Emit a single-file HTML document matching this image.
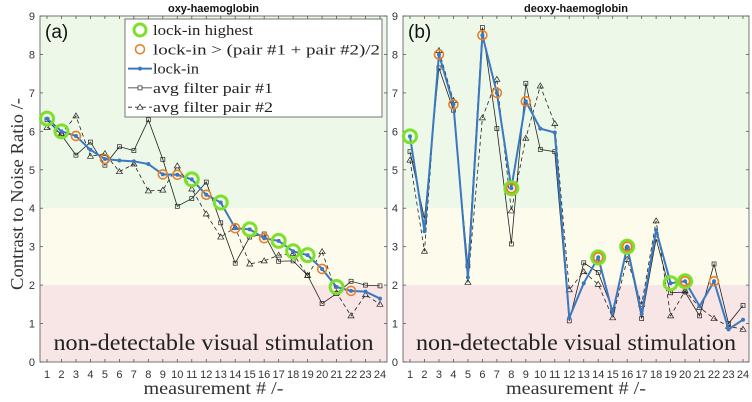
<!DOCTYPE html>
<html><head><meta charset="utf-8"><style>
body{margin:0;background:#fff;}
svg{display:block;font-family:"Liberation Sans",sans-serif;}
.serif{font-family:"Liberation Serif",serif;}
</style></head><body>
<svg id="chart" width="752" height="402"></svg>
<script>
const categories=[1,2,3,4,5,6,7,8,9,10,11,12,13,14,15,16,17,18,19,20,21,22,23,24];
const yTicks=[0,1,2,3,4,5,6,7,8,9];
const oxyLock=[6.33,6.0,5.88,5.52,5.28,5.24,5.22,5.15,4.88,4.87,4.75,4.35,4.15,3.48,3.45,3.22,3.15,2.88,2.78,2.42,1.95,1.85,1.83,1.65];
const oxyP1=[6.3,5.9,5.38,5.72,5.12,5.6,5.5,6.3,5.27,4.05,4.25,4.68,3.62,2.57,3.25,3.33,2.62,2.63,2.25,1.52,1.78,2.1,2.0,1.98];
const oxyP2=[6.1,5.95,6.4,5.35,5.42,4.95,5.15,4.45,4.47,5.1,4.5,3.85,3.25,3.5,2.55,2.63,2.78,2.82,2.25,2.87,1.8,1.2,1.75,1.5];
const oxyGreen=[1,2,11,13,15,17,18,19,21];
const oxyOrange=[3,5,9,10,12,14,16,20,22];
const deoLock=[5.87,3.4,8.0,6.7,2.2,8.5,7.0,4.52,6.78,6.07,5.97,1.15,2.05,2.72,1.27,3.0,1.25,3.43,2.05,2.1,1.45,2.1,0.85,1.1];
const deoP1=[5.47,3.73,7.65,6.55,2.5,8.7,6.07,3.07,7.25,5.53,5.47,1.07,2.58,2.33,1.35,2.95,1.13,3.2,1.8,1.82,1.2,2.55,1.0,1.47];
const deoP2=[5.25,2.88,8.1,6.8,2.07,6.35,7.35,3.93,5.82,7.18,6.2,1.88,2.35,2.02,1.15,2.67,1.5,3.67,1.2,1.85,1.42,1.13,0.93,0.85];
const deoGreen=[1,8,14,16,19,20];
const deoOrange=[3,4,6,7,8,9,14,16,20,22];

const NS="http://www.w3.org/2000/svg";
const svg=document.getElementById('chart');
function el(tag,attrs,parent){const e=document.createElementNS(NS,tag);for(const k in attrs)e.setAttribute(k,attrs[k]);(parent||svg).appendChild(e);return e;}

function panel(cfg){
  const g=el('g',{});
  
  
  const L=cfg.left,R=cfg.right,T=16,B=362;
  const xs=i=>cfg.x1+(i-1)*(cfg.x24-cfg.x1)/23;
  const ys=v=>B-(v/9)*(B-T);
  const bands=[[4,9,'#eef8e9','green-band'],[2,4,'#fdfcec','yellow-band'],[0,2,'#f8e5e5','red-band']];
  bands.forEach(b=>{const r=el('rect',{x:L,y:ys(b[1]),width:R-L,height:ys(b[0])-ys(b[1]),fill:b[2]},g);
    });
  const fr=el('rect',{x:L,y:T,width:R-L,height:B-T,fill:'none',stroke:'#555','stroke-width':0.8},g);
  
  yTicks.forEach(t=>{const y=ys(t);
    el('line',{x1:L,x2:L+3,y1:y,y2:y,stroke:'#555','stroke-width':0.8},g);
    el('line',{x1:R,x2:R-3,y1:y,y2:y,stroke:'#555','stroke-width':0.8},g);
    const tx=el('text',{x:L-5,y:y+4,'text-anchor':'end','font-size':11,fill:'#333'},g);tx.textContent=t;
    });
  categories.forEach(c=>{const x=xs(c);
    el('line',{x1:x,x2:x,y1:B,y2:B-3,stroke:'#555','stroke-width':0.8},g);
    el('line',{x1:x,x2:x,y1:T,y2:T+3,stroke:'#555','stroke-width':0.8},g);
    const tx=el('text',{x:x,y:B+16,'text-anchor':'middle','font-size':11,fill:'#333'},g);tx.textContent=c;
    });
  const nd=el('text',{x:(L+R)/2,y:350,'text-anchor':'middle','font-size':23,fill:'#222',class:'serif',textLength:320,lengthAdjust:'spacingAndGlyphs'},g);
  nd.textContent='non-detectable visual stimulation';
  
  const ti=el('text',{x:(L+R)/2,y:12,'text-anchor':'middle','font-size':11,'font-weight':'bold',fill:'#111'},g);
  ti.textContent=cfg.title;
  const pl=el('text',{x:L+5,y:38,'font-size':19,fill:'#111'},g);pl.textContent=cfg.label;
  
  const xl=el('text',{x:(L+R)/2,y:394,'text-anchor':'middle','font-size':18,fill:'#333',class:'serif',textLength:140,lengthAdjust:'spacingAndGlyphs'},g);
  xl.textContent='measurement # /-';
  const pts=a=>a.map((v,i)=>xs(categories[i])+','+ys(v)).join(' ');
  const p1=el('polyline',{points:pts(cfg.p1),fill:'none',stroke:'#222','stroke-width':0.8},g);
  
  cfg.p1.forEach((v,i)=>{const m=el('rect',{x:xs(categories[i])-2,y:ys(v)-2,width:4,height:4,fill:'none',stroke:'#222','stroke-width':0.7},g);
    });
  const p2=el('polyline',{points:pts(cfg.p2),fill:'none',stroke:'#222','stroke-width':0.8,'stroke-dasharray':'4,3'},g);
  
  cfg.p2.forEach((v,i)=>{const x=xs(categories[i]),y=ys(v);
    const m=el('polygon',{points:`${x},${y-3} ${x-3},${y+2} ${x+3},${y+2}`,fill:'none',stroke:'#222','stroke-width':0.7},g);
    });
  const lk=el('polyline',{points:pts(cfg.lock),fill:'none',stroke:'#3a78c0','stroke-width':2},g);
  
  cfg.lock.forEach((v,i)=>{const m=el('circle',{cx:xs(categories[i]),cy:ys(v),r:2,fill:'#3a78c0'},g);
    });
  cfg.green.forEach(c=>{const m=el('circle',{cx:xs(c),cy:ys(cfg.lock[c-1]),r:6.5,fill:'none',stroke:'#7de02a','stroke-width':3},g);
    });
  cfg.orange.forEach(c=>{const m=el('circle',{cx:xs(c),cy:ys(cfg.lock[c-1]),r:4.5,fill:'none',stroke:'#e8822a','stroke-width':1.6},g);
    });
}
panel({name:'oxy-panel',title:'oxy-haemoglobin',label:'(a)',left:40,right:387,x1:47,x24:380,lock:oxyLock,p1:oxyP1,p2:oxyP2,green:oxyGreen,orange:oxyOrange});
panel({name:'deoxy-panel',title:'deoxy-haemoglobin',label:'(b)',left:403,right:749,x1:410,x24:743,lock:deoLock,p1:deoP1,p2:deoP2,green:deoGreen,orange:deoOrange});
const yt=el('text',{x:0,y:0,'text-anchor':'middle','font-size':18,fill:'#333',class:'serif',transform:'translate(23,194) rotate(-90)',textLength:192,lengthAdjust:'spacingAndGlyphs'});
yt.textContent='Contrast to Noise Ratio /-';


const lg=el('g',{});


el('rect',{x:125,y:19,width:257,height:98,fill:'#fff',stroke:'#555','stroke-width':0.8},lg);
const items=[['lock-in highest','g',100],['lock-in > (pair #1 + pair #2)/2','o',227],['lock-in','b',46],['avg filter pair #1','s',120],['avg filter pair #2','t',120]];
items.forEach((it,i)=>{const y=30+i*19.3;
  const e=el('g',{},lg);
  
  
  if(it[1]==='g')el('circle',{cx:140,cy:y,r:6,fill:'none',stroke:'#7de02a','stroke-width':3},e);
  if(it[1]==='o')el('circle',{cx:140,cy:y,r:4.5,fill:'none',stroke:'#e8822a','stroke-width':1.6},e);
  if(it[1]==='b'){el('line',{x1:128,x2:152,y1:y,y2:y,stroke:'#3a78c0','stroke-width':2},e);el('circle',{cx:140,cy:y,r:2,fill:'#3a78c0'},e);}
  if(it[1]==='s'){el('line',{x1:128,x2:152,y1:y,y2:y,stroke:'#222','stroke-width':0.8},e);el('rect',{x:138,y:y-2,width:4,height:4,fill:'#fff',stroke:'#222','stroke-width':0.7},e);}
  if(it[1]==='t'){el('line',{x1:128,x2:152,y1:y,y2:y,stroke:'#222','stroke-width':0.8,'stroke-dasharray':'4,3'},e);el('polygon',{points:`140,${y-3} 137,${y+2} 143,${y+2}`,fill:'#fff',stroke:'#222','stroke-width':0.7},e);}
  const t=el('text',{x:153,y:y+5,'font-size':15,fill:'#222',class:'serif',textLength:it[2],lengthAdjust:'spacingAndGlyphs'},e);t.textContent=it[0];
});
</script>
</body></html>
